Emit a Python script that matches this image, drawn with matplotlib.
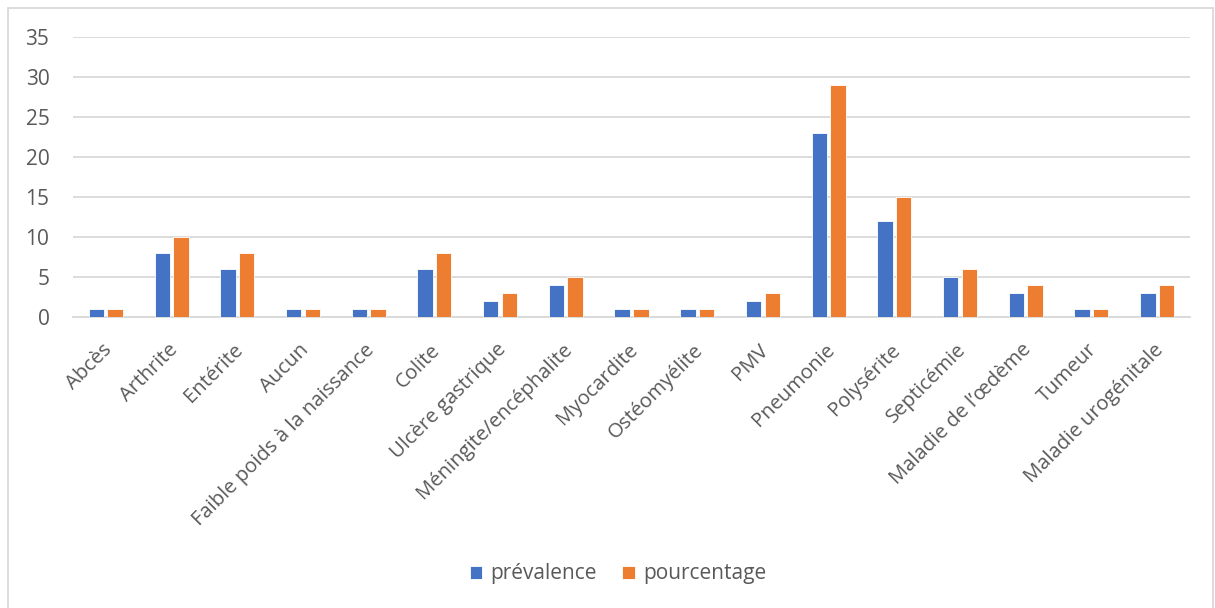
import matplotlib
matplotlib.use("Agg")
import matplotlib.pyplot as plt
import numpy as np
from matplotlib.patches import Rectangle
from matplotlib.transforms import ScaledTranslation

categories = ["Abcès", "Arthrite", "Entérite", "Aucun", "Faible poids à la naissance",
              "Colite", "Ulcère gastrique", "Méningite/encéphalite", "Myocardite",
              "Ostéomyélite", "PMV", "Pneumonie", "Polysérite", "Septicémie",
              "Maladie de l\u2019œdème", "Tumeur", "Maladie urogénitale"]
prevalence = [1, 8, 6, 1, 1, 6, 2, 4, 1, 1, 2, 23, 12, 5, 3, 1, 3]
pourcentage = [1, 10, 8, 1, 1, 8, 3, 5, 1, 1, 3, 29, 15, 6, 4, 1, 4]
series_names = ["prévalence", "pourcentage"]
yticks = [0, 5, 10, 15, 20, 25, 30, 35]

plt.rcParams['font.family'] = ['Open Sans', 'DejaVu Sans']
W, H = 1215, 608
fig = plt.figure(figsize=(W / 100, H / 100), dpi=100)
fig.patches.append(Rectangle((8 / W, -0.01), (1213 - 8) / W, 1 - 8 / H + 0.01,
                             transform=fig.transFigure, fill=False,
                             edgecolor='#d9d9d9', linewidth=1.3))

ax = fig.add_axes([73 / W, 1 - 317 / H, (1190 - 73) / W, (317 - 37) / H])
x = np.arange(len(categories))
w = 0.235
off = 0.142
ax.bar(x - off, prevalence, w, color='#4472C4', edgecolor='white', linewidth=0.6,
       label=series_names[0], zorder=3)
ax.bar(x + off, pourcentage, w, color='#ED7D31', edgecolor='white', linewidth=0.6,
       label=series_names[1], zorder=3)

ax.set_xlim(-0.5, len(categories) - 0.5)
ax.set_ylim(0, 35)
ax.set_yticks(yticks)
ax.yaxis.grid(True, color='#d9d9d9', linewidth=1.3, zorder=0)
for s in ['top', 'right', 'left']:
    ax.spines[s].set_visible(False)
ax.spines['bottom'].set_color('#d9d9d9')
ax.spines['bottom'].set_linewidth(1.3)
ax.tick_params(axis='y', length=0, labelsize=15, labelcolor='#595959', pad=17)
ax.tick_params(axis='x', length=0, labelsize=14.6, labelcolor='#595959', pad=16.5)
ax.set_xticks(x)
ax.set_xticklabels(categories, rotation=45, ha='right', rotation_mode='anchor')
shift = ScaledTranslation(-4 / 100, 0, fig.dpi_scale_trans)
for lab in ax.get_xticklabels():
    lab.set_transform(lab.get_transform() + shift)

fig.legend(loc='center', bbox_to_anchor=(618 / W, 1 - 574 / H), ncol=2, frameon=False,
           fontsize=15, labelcolor='#595959', handlelength=0.6, handleheight=0.6,
           handletextpad=0.4, columnspacing=1.2)

fig.savefig("out.png", dpi=100, facecolor='white')
